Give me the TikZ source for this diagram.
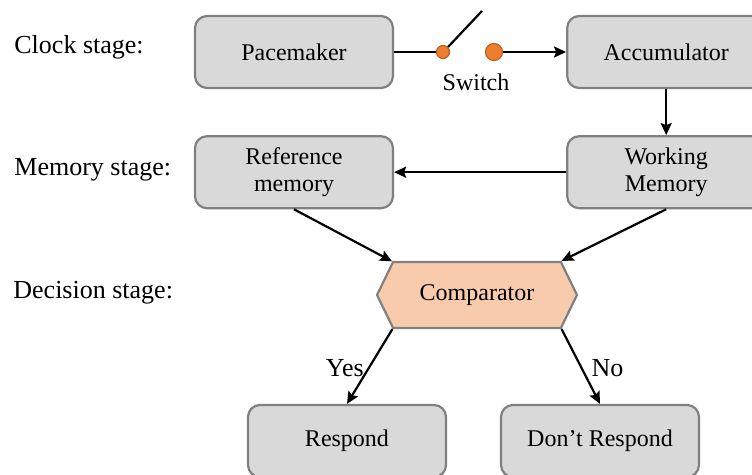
\documentclass[tikz,border=0pt]{standalone}
\usepackage{fontspec}
\setmainfont{Liberation Serif}
\usepackage{tikz}
\usetikzlibrary{shapes.symbols, arrows.meta, positioning}
\definecolor{boxfill}{HTML}{D9D9D9}
\definecolor{boxline}{HTML}{808080}
\definecolor{cmpfill}{HTML}{F8CBAD}
\definecolor{swfill}{HTML}{ED7D31}
\definecolor{swline}{HTML}{C0601E}

\begin{document}
\begin{tikzpicture}[
    x=0.5pt, y=-0.5pt,
    node distance=23pt and 86pt,
    box/.style={rectangle, rounded corners=6pt, draw=boxline, line width=1.1pt, fill=boxfill,
                minimum width=99pt, minimum height=36pt, align=center,
                font=\fontsize{12}{13.5}\selectfont},
    cmpbox/.style={signal, signal to=west and east, signal pointer angle=128,
                   draw=boxline, line width=1.1pt, fill=cmpfill,
                   minimum width=100pt, minimum height=33pt, inner xsep=0pt,
                   font=\fontsize{12}{13.5}\selectfont},
    stage/.style={anchor=west, inner sep=0pt, font=\fontsize{13}{15}\selectfont},
    answer/.style={inner sep=0pt, font=\fontsize{13}{15}\selectfont},
    swdot/.style={circle, draw=swline, line width=0.6pt, fill=swfill, inner sep=0pt},
    wire/.style={line width=1.1pt},
    arr/.style={-{Stealth[length=6pt, width=5.5pt, inset=1pt]}, line width=1.1pt}
]
\useasboundingbox (0,0) rectangle (752,475);

% stage labels
\node[stage] (lclock)  at (14,47)  {Clock stage:};
\node[stage] (lmemory) at (14,170) {Memory stage:};
\node[stage] (ldecide) at (13,293) {Decision stage:};

% clock stage
\node[box] (pace) at (294,52) {Pacemaker};
\node[box, right=of pace] (accu) {Accumulator};

% memory stage
\node[box, below=of accu] (workmem) {Working\\Memory};
\node[box, left=of workmem] (refmem) {Reference\\memory};

% decision stage
\node[cmpbox] (cmp) at (477,295) {Comparator};
\node[box] (respond) at (347,441) {Respond};
\node[box] (norespond) at (600,441) {Don't Respond};

% switch between pacemaker and accumulator
\node[swdot, minimum size=6.5pt] (swa) at (443,52) {};
\node[swdot, minimum size=8.5pt] (swb) at (494,52) {};
\coordinate (lever) at (482,11);
\node[font=\fontsize{12}{13.5}\selectfont] (swlabel) at (476,82) {Switch};

\draw[wire] (pace) -- (swa);
\draw[wire] (swa.45) -- (lever);
\draw[arr] (swb) -- (accu);
\draw[arr] (accu) -- (workmem);
\draw[arr] (workmem) -- (refmem);
\draw[arr] (refmem.south) -- (cmp.north west);
\draw[arr] (workmem.south) -- (cmp.north east);
\draw[arr] (cmp.south west) -- node[answer, anchor=east, pos=0.52, xshift=-2pt] {Yes} (respond.north);
\draw[arr] (cmp.south east) -- node[answer, anchor=west, pos=0.52, xshift=4.5pt] {No} (norespond.north);

\end{tikzpicture}
\end{document}
